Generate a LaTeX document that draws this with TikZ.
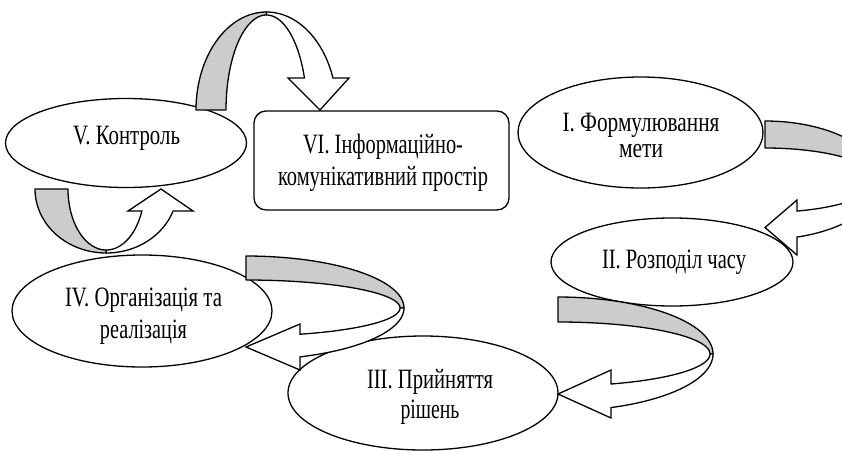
\documentclass[tikz,border=0pt]{standalone}
\usepackage{fontspec}
\setmainfont{Liberation Serif}
\usetikzlibrary{shapes.geometric}
\newcommand\fw[2]{\resizebox{#1pt}{\height}{#2}}
\newcommand\curvL[9]{%
 \pgfmathsetmacro\cvA{acos((#7-#1)/#3)}%
 \pgfmathsetmacro\cvB{acos((#7-#1)/#5)}%
 \pgfmathsetmacro\cvT{(#8+#9)/2}%
 \draw[band] plot[domain=-90:0] ({#1+#3*cos(\x)},{#2+#4*sin(\x)}) -- plot[domain=0:90] ({#1+#5*cos(-\x)},{#2+#6*sin(-\x)}) -- cycle;
 \draw[body] plot[domain=0:\cvA] ({#1+#3*cos(\x)},{#2+#4*sin(\x)}) -- (#7,#9) -- (#1,\cvT) -- (#7,#8) -- plot[domain=0:\cvB] ({#1+#5*cos(\cvB-\x)},{#2+#6*sin(\cvB-\x)}) -- cycle;}
\begin{document}
\begin{tikzpicture}[x=1pt,y=-1pt,line width=1.3pt,samples=50,
  ell/.style={draw,ellipse,fill=white,inner sep=0pt},
  lbl/.style={align=center,inner sep=0pt,font=\fontsize{28}{30}\selectfont},
  band/.style={draw,fill=black!20,line join=round},
  body/.style={draw,fill=white,line join=miter}]
\useasboundingbox (0,0) rectangle (842,450);
% nodes
\node[ell,minimum width=241pt,minimum height=89pt] (e5) at (126,143) {};
\node[ell,minimum width=245pt,minimum height=111pt] (e1) at (640.5,132.5) {};
\node[ell,minimum width=242pt,minimum height=88pt] (e2) at (672,262) {};
\node[ell,minimum width=270pt,minimum height=114pt] (e3) at (423,393) {};
\node[ell,minimum width=260pt,minimum height=112pt] (e4) at (142,311) {};
\node[draw,fill=white,rounded corners=12pt,minimum width=255pt,minimum height=99pt,inner sep=0pt] (b6) at (381.5,160.5) {};
% labels
\node[lbl] (t5) at (126.5,138.8) {\fw{107}{V. Контроль}};
\node[lbl,font=\fontsize{28}{26}\selectfont] (t1) at (641,135.6) {\fw{157}{I. Формулювання}\\\fw{44}{мети}};
\node[lbl] (t2) at (674,261.8) {\fw{144}{II. Розподіл часу}};
\node[lbl] (t3) at (430,396.5) {\fw{126}{III. Прийняття}\\\fw{59}{рішень}};
\node[lbl,font=\fontsize{28}{32}\selectfont] (t4) at (143.5,315.8) {\fw{157}{IV. Організація та}\\\fw{87}{реалізація}};
\node[lbl,font=\fontsize{28}{32}\selectfont] (t6) at (383,162.4) {\fw{160}{VI. Інформаційно-}\\\fw{210}{комунікативний простір}};
% curved left arrows
\curvL{246}{308}{158}{52}{154}{28}{300}{324}{370}
\curvL{558}{354}{155}{57}{152}{32}{611}{370}{418}
\curvL{765}{180.2}{115}{59.2}{112}{32.2}{797}{200}{255}
% curved down arrow (top)
\pgfmathsetmacro\cvA{asin(-32/98)}
\pgfmathsetmacro\cvB{asin(-32/95)}
\pgfmathsetmacro\cvC{\cvB+90}
\draw[band] plot[domain=-180:-90] ({266.4+70.4*cos(\x)},{110+98*sin(\x)}) -- plot[domain=0:90] ({266.4+40.4*cos(-90-\x)},{110+95*sin(-90-\x)}) -- cycle;
\draw[body] plot[domain=-90:\cvA] ({266.4+70.4*cos(\x)},{110+98*sin(\x)}) -- (349,78) -- (320,110) -- (288,78) -- plot[domain=0:\cvC] ({266.4+40.4*cos(\cvB-\x)},{110+95*sin(\cvB-\x)}) -- cycle;
% curved up arrow (left)
\pgfmathsetmacro\cvA{asin(22/64)}
\pgfmathsetmacro\cvB{asin(22/61)}
\pgfmathsetmacro\cvC{90-\cvA}
\pgfmathsetmacro\cvD{90-\cvB}
\draw[band] plot[domain=0:90] ({106.2+71.2*cos(180-\x)},{189+64*sin(180-\x)}) -- plot[domain=0:90] ({106.2+38.2*cos(90+\x)},{189+61*sin(90+\x)}) -- cycle;
\draw[body] plot[domain=0:\cvC] ({106.2+71.2*cos(90-\x)},{189+64*sin(90-\x)}) -- (193,211) -- (161,189) -- (128,211) -- plot[domain=0:\cvD] ({106.2+38.2*cos(\cvB+\x)},{189+61*sin(\cvB+\x)}) -- cycle;
\end{tikzpicture}
\end{document}
